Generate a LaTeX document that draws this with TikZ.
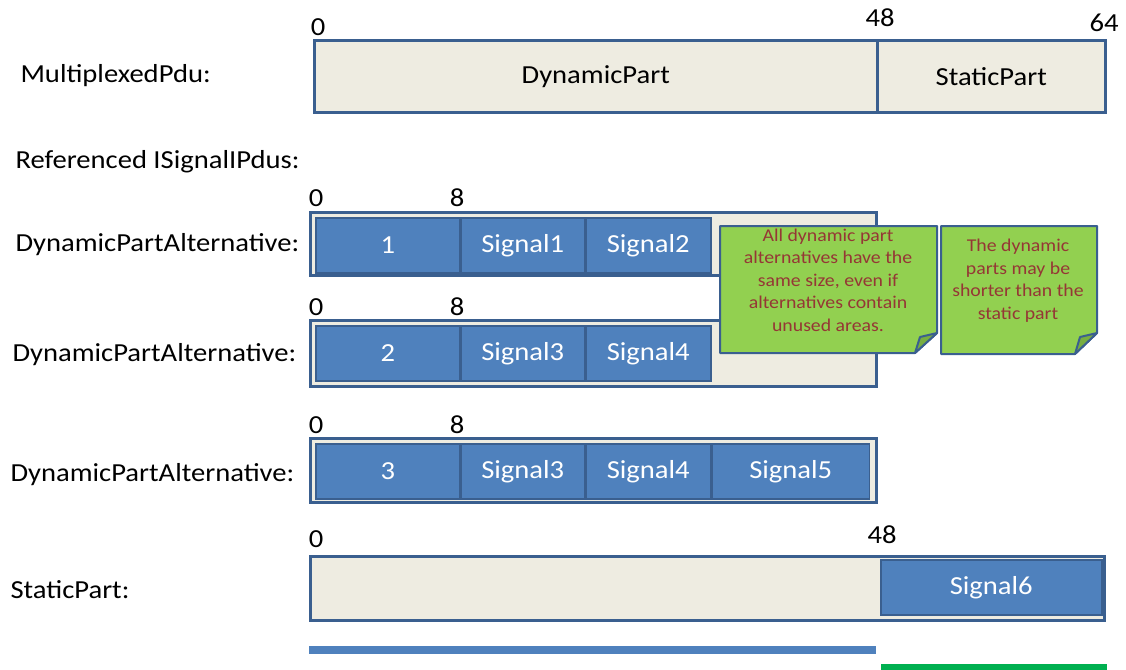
\documentclass[tikz,border=0pt]{standalone}
\usepackage{fontspec}
\setmainfont{Carlito}[FakeStretch=1.1]
\usetikzlibrary{positioning}
\definecolor{framebg}{HTML}{EEECE1}
\definecolor{cellblue}{HTML}{4F81BD}
\definecolor{edgeblue}{HTML}{3A5F8F}
\definecolor{notegreen}{HTML}{92D050}
\definecolor{notefold}{HTML}{78AE40}
\definecolor{notetext}{HTML}{953735}
\definecolor{bargreen}{HTML}{00B050}

\begin{document}
\begin{tikzpicture}[x=1pt,y=-1pt,
  frame/.style={draw=edgeblue,line width=2.5pt,fill=framebg,anchor=north west,inner sep=0pt,font=\fontsize{26}{30}\selectfont},
  cell/.style={draw=edgeblue,line width=1.5pt,fill=cellblue,text=white,anchor=north west,inner sep=0pt,minimum height=55pt,font=\fontsize{26}{30}\selectfont},
  rowlabel/.style={anchor=west,font=\fontsize{26}{30}\selectfont},
  tick/.style={anchor=base,font=\fontsize{26}{28}\selectfont},
  notebox/.style={draw=edgeblue,line width=2pt,fill=notegreen,line join=round},
  notetxt/.style={text=notetext,align=center,inner sep=0pt,font=\fontsize{18}{22.5}\selectfont}]

\useasboundingbox (0,0) rectangle (1126,669);

% multiplexed pdu
\node[rowlabel] (lmpdu) at (17,76) {MultiplexedPdu:};
\node[frame,line width=1.5pt,minimum width=562pt,minimum height=70pt] (dyn) at (314,41) {DynamicPart};
\node[frame,line width=1.5pt,minimum width=226pt,minimum height=70pt,right=0pt of dyn] (stat) {StaticPart};
\draw[edgeblue,line width=3pt] (dyn.north west) rectangle (stat.south east);
\node[tick] (m0) at (318,36) {0};
\node[tick] (m48) at (880,27) {48};
\node[tick] (m64) at (1104,32) {64};

\node[rowlabel] (lref) at (12,162) {Referenced ISignalIPdus:};

% dynamic part alternatives
\node[rowlabel] (lalt1) at (12,245) {DynamicPartAlternative:};
\node[frame,minimum width=566pt,minimum height=63pt] (alt1) at (309,211) {};
\node[cell,minimum width=144pt] (a1c1) at ([shift={(6,6)}]alt1.north west) {1};
\node[cell,minimum width=123pt,right=0pt of a1c1] (a1c2) {Signal1};
\node[cell,minimum width=125pt,right=0pt of a1c2] (a1c3) {Signal2};

\node[rowlabel] (lalt2) at (9,355) {DynamicPartAlternative:};
\node[frame,minimum width=566pt,minimum height=66pt] (alt2) at (309,319) {};
\node[cell,minimum width=144pt] (a2c1) at ([shift={(6,6)}]alt2.north west) {2};
\node[cell,minimum width=123pt,right=0pt of a2c1] (a2c2) {Signal3};
\node[cell,minimum width=125pt,right=0pt of a2c2] (a2c3) {Signal4};

\node[rowlabel] (lalt3) at (7,475) {DynamicPartAlternative:};
\node[frame,minimum width=566pt,minimum height=64pt] (alt3) at (309,437) {};
\node[cell,minimum width=144pt] (a3c1) at ([shift={(6,6)}]alt3.north west) {3};
\node[cell,minimum width=123pt,right=0pt of a3c1] (a3c2) {Signal3};
\node[cell,minimum width=125pt,right=0pt of a3c2] (a3c3) {Signal4};
\node[cell,minimum width=157pt,right=0pt of a3c3] (a3c4) {Signal5};

\foreach \r/\base in {1/206,2/315,3/433}{
  \node[tick] (d\r z) at (316,\base) {0};
  \node[tick] (d\r e) at (457,\base) {8};
}

% static part
\node[rowlabel] (lstat) at (7,590) {StaticPart:};
\node[frame,minimum width=794pt,minimum height=64pt] (spart) at (309,555) {};
\node[cell,minimum width=221pt] (s6) at (880,559) {Signal6};
\node[tick] (s0) at (316,547) {0};
\node[tick] (s48) at (882,543) {48};

% notes
\draw[notebox] (720,226) -- (937,226) -- (937,333) -- (915,353) -- (720,353) -- cycle;
\draw[notebox,fill=notefold] (937,333) -- (920,337) -- (915,353) -- cycle;
\node[notetxt] (note1) at (828,280) {All dynamic part\\alternatives have the\\same size, even if\\alternatives contain\\unused areas.};
\draw[notebox] (941,226) -- (1097,226) -- (1097,333) -- (1075,354) -- (941,354) -- cycle;
\draw[notebox,fill=notefold] (1097,333) -- (1080,337) -- (1075,354) -- cycle;
\node[notetxt] (note2) at (1018,280.5) {The dynamic\\parts may be\\shorter than the\\static part};

% extent bars
\fill[cellblue] (alt3.west |- 0,646) rectangle (876,654);
\fill[bargreen] (881,664) rectangle (1107,672);
\end{tikzpicture}
\end{document}
